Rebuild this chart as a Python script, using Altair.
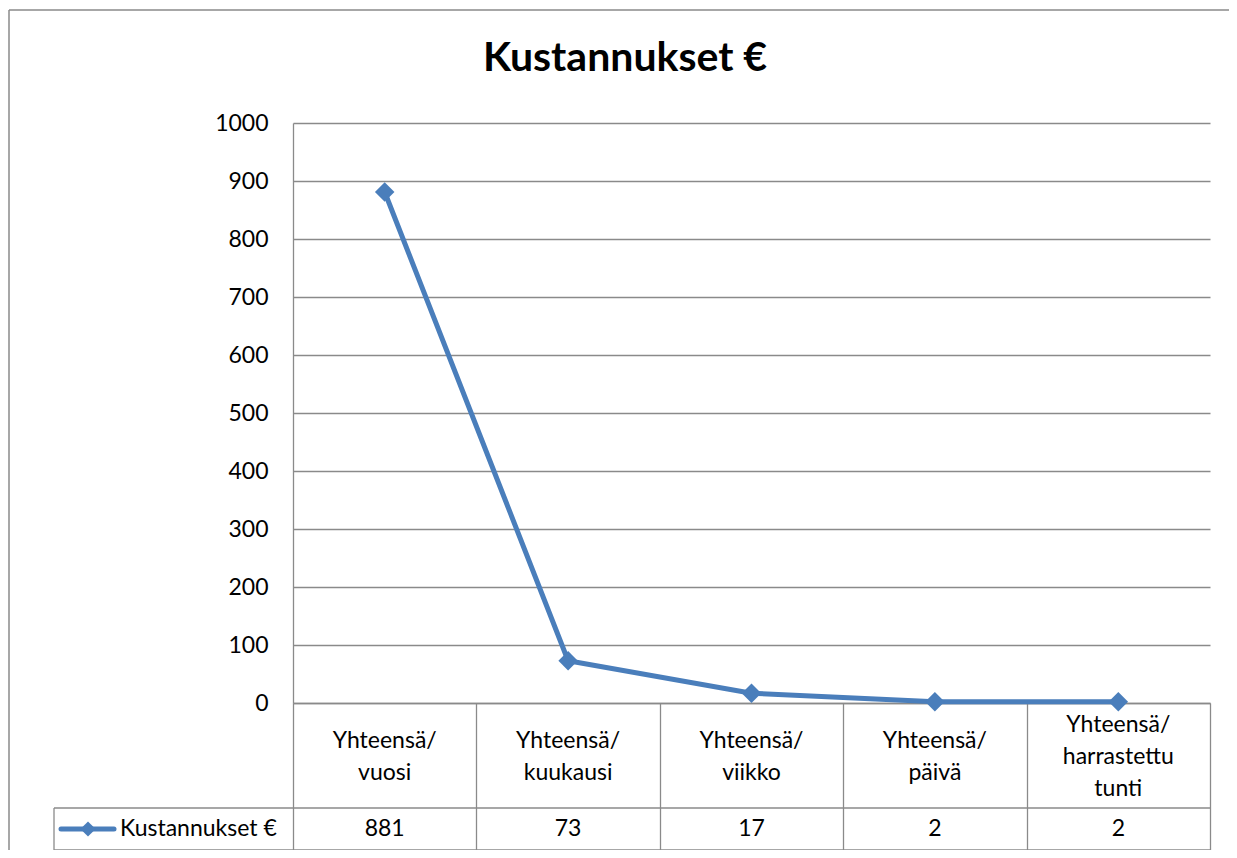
import altair as alt
import pandas as pd

categories = ["Yhteensä/\nvuosi", "Yhteensä/\nkuukausi", "Yhteensä/\nviikko",
              "Yhteensä/\npäivä", "Yhteensä/\nharrastettu\ntunti"]
values = [881, 73, 17, 2, 2]
series_name = "Kustannukset €"
title_text = "Kustannukset €"
y_ticks = list(range(0, 1001, 100))

df = pd.DataFrame({
    "cat": categories,
    "val": values,
    "order": list(range(len(values))),
    "nlines": [c.count("\n") + 1 for c in categories],
})

FONT = "Lato"
GRID = "#8a8a8a"
BLUE = "#4A7EBB"
W, H = 917, 580

x_enc = alt.X("cat:N", sort=categories,
              scale=alt.Scale(type="band", paddingInner=0, paddingOuter=0),
              axis=alt.Axis(labels=False, title=None, tickBand="extent", tickSize=147,
                            tickColor=GRID, tickWidth=1.3, domainColor=GRID,
                            domainWidth=1.3, grid=False))
y_enc = alt.Y("val:Q", scale=alt.Scale(domain=[0, 1000]),
              axis=alt.Axis(values=y_ticks, format="d", title=None, tickSize=0,
                            labelPadding=25, labelFontSize=23, labelFont=FONT,
                            labelColor="black", domainColor=GRID, domainWidth=1.3,
                            gridColor=GRID, gridWidth=1.3))

base = alt.Chart(df)
xc = alt.X("cat:N", sort=categories)

line = base.mark_line(color=BLUE, strokeWidth=5).encode(x=x_enc, y=y_enc, order="order:O")
pts = base.mark_point(shape="diamond", filled=True, size=380, opacity=1, color=BLUE).encode(
    x=xc, y="val:Q")

cat_text2 = base.transform_filter("datum.nlines == 2").mark_text(
    lineBreak="\n", lineHeight=32, fontSize=23, font=FONT, baseline="middle",
    align="center", color="black", dy=-16).encode(x=xc, y=alt.value(634), text="cat:N")
cat_text3 = base.transform_filter("datum.nlines == 3").mark_text(
    lineBreak="\n", lineHeight=32, fontSize=23, font=FONT, baseline="middle",
    align="center", color="black", dy=-32).encode(x=xc, y=alt.value(634), text="cat:N")
val_text = base.mark_text(fontSize=23, font=FONT, baseline="middle", align="center",
                          color="black").encode(x=xc, y=alt.value(706), text="val:Q")

leg_df = pd.DataFrame({"name": [series_name], "title": [title_text]})
leg = alt.Chart(leg_df)
leg_line = leg.mark_rule(color=BLUE, strokeWidth=5, strokeCap="round").encode(
    x=alt.value(-232), x2=alt.value(-179), y=alt.value(706))
leg_pt = leg.mark_point(shape="diamond", filled=True, size=230, opacity=1, color=BLUE).encode(
    x=alt.value(-205), y=alt.value(706))
leg_txt = leg.mark_text(fontSize=23, font=FONT, baseline="middle", align="left",
                        color="black").encode(x=alt.value(-173), y=alt.value(706), text="name:N")
title = leg.mark_text(fontSize=41, font=FONT, fontWeight="bold", baseline="middle",
                      align="center", color="black").encode(
    x=alt.value(332), y=alt.value(-64), text="title:N")

def rule(**kw):
    return leg.mark_rule(color=GRID, strokeWidth=1.3).encode(**kw)

table_rules = [
    rule(x=alt.value(-239), x2=alt.value(W), y=alt.value(685)),
    rule(x=alt.value(-239), x2=alt.value(W), y=alt.value(727)),
    rule(x=alt.value(-239), y=alt.value(685), y2=alt.value(727)),
]
frame = [
    leg.mark_rule(color=GRID, strokeWidth=1.5).encode(x=alt.value(-284), y=alt.value(-113), y2=alt.value(760)),
    leg.mark_rule(color=GRID, strokeWidth=1.5).encode(x=alt.value(-284), x2=alt.value(960), y=alt.value(-113)),
]

chart = alt.layer(line, pts, cat_text2, cat_text3, val_text, leg_line, leg_pt, leg_txt,
                  title, *table_rules, *frame).properties(
    width=W, height=H,
    autosize=alt.AutoSizeParams(type="none"),
    padding={"left": 285, "top": 115, "right": 19, "bottom": 147},
).configure_view(stroke="transparent")

chart.save("out.html", embed_options={"renderer": "svg", "actions": False})
